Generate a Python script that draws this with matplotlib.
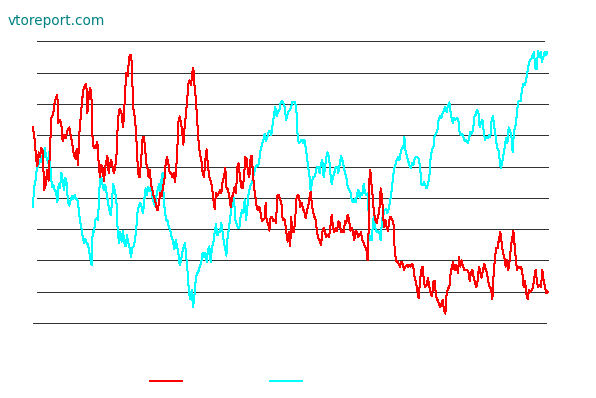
import matplotlib
matplotlib.use("Agg")
import matplotlib.pyplot as plt

# ---- data (time index, value) ----
red_t = [0, 5, 10, 13, 17, 21, 25, 30, 33, 37, 43, 47, 51, 55, 60, 65, 70, 73, 76, 80,
         85, 89, 93, 98, 103, 109, 113, 118, 123, 127, 131, 135, 140, 143, 147, 152, 156, 160, 163, 167,
         171, 175, 179, 183, 188, 193, 197, 201, 205, 209, 213, 217, 223, 227, 231, 235, 240, 243, 247, 251,
         255, 260, 265, 270, 273, 276, 280, 284, 287, 290, 294, 297, 300, 304, 308, 312, 315, 320, 325, 329,
         333, 336, 340, 344, 347, 350, 354, 358, 362, 366, 370, 374, 378, 382, 386, 390, 394, 398, 402, 406,
         410, 414, 418, 422, 426, 430, 433, 436, 440, 444, 447, 451, 454, 458, 462, 466, 470, 474, 478, 481,
         484, 488, 492,
         495, 500, 505, 509, 513, 517, 521, 525, 529, 533, 537, 541, 545, 549, 553, 557, 561, 565, 569, 573,
         577, 580, 585, 589, 593, 597, 601, 605, 609, 613, 617, 621, 625, 629, 633, 637, 641, 645, 649, 653,
         656, 659, 663, 667, 671, 675, 679, 683, 687, 691, 695, 698, 701, 705, 709, 713, 717, 721, 725, 729,
         733, 737, 741, 745, 749,
         750, 755, 760, 764, 768, 772, 774, 778, 782, 786, 790, 794, 798, 802, 806, 810, 814, 818, 822, 826,
         830, 833, 836, 840, 844, 848, 852, 856, 860, 864, 868, 872, 876, 880, 884, 888, 892, 896, 900, 904,
         908, 912, 916, 920, 924, 928, 932, 936, 940, 944, 948, 952, 956, 960, 964, 968, 972, 976, 980, 984,
         988, 992, 996, 1000, 1004, 1006,
         1010, 1013, 1016, 1019, 1023, 1027, 1031, 1035, 1039, 1043, 1047, 1050, 1053, 1057, 1061, 1065, 1069, 1073, 1077, 1081,
         1085, 1089, 1093, 1097, 1101, 1105, 1109, 1113, 1117, 1121, 1125, 1129, 1133, 1137, 1141, 1145, 1149, 1153, 1157, 1161,
         1165, 1169, 1173, 1177, 1181, 1185, 1189, 1193, 1197, 1201, 1205, 1209, 1213, 1217, 1221, 1225, 1229, 1233, 1237, 1241,
         1245, 1249, 1253, 1257,
         1260, 1265, 1270, 1275, 1278, 1282, 1286, 1290, 1294, 1298, 1302, 1306, 1310, 1314, 1318, 1322, 1326, 1330, 1334, 1338,
         1342, 1346, 1350, 1354, 1358, 1362, 1366, 1370, 1374, 1378, 1382, 1386, 1390, 1394, 1398, 1402, 1406, 1410, 1414, 1418,
         1422, 1426, 1430, 1434, 1438, 1441, 1445, 1448, 1452, 1456, 1460, 1464, 1468, 1472, 1476, 1480, 1484, 1488, 1492, 1496,
         1500, 1504, 1508, 1512, 1516, 1520, 1524, 1528, 1532, 1536, 1540, 1544]
red_v = [125, 117, 104, 100, 109, 106, 112, 109, 85, 87, 98, 91, 111, 131, 133, 141, 144, 146, 128, 130,
         127, 116, 120, 118, 123, 125, 120, 114, 107, 105, 111, 101, 125, 131, 142, 150, 152, 153, 134, 144,
         150, 147, 115, 112, 112, 116, 102, 93, 101, 98, 91, 100, 107, 96, 102, 104, 98, 96, 100, 109,
         131, 137, 135, 125, 132, 147, 160, 158, 166, 171, 171, 164, 138, 134, 125, 111, 96, 93, 106, 119,
         119, 112, 102, 98, 93, 98, 89, 85, 81, 79, 74, 72, 77, 83, 81, 87, 91, 102, 106, 102,
         96, 96, 93, 96, 90, 100, 111, 128, 132, 128, 123, 114, 123, 132, 141, 153, 155, 152, 160, 163,
         153, 144, 132,
         120, 109, 104, 96, 93, 104, 111, 100, 93, 91, 87, 79, 73, 83, 81, 83, 85, 83, 91, 93,
         99, 87, 85, 81, 74, 80, 83, 87, 83, 100, 102, 93, 87, 86, 93, 106, 105, 96, 93, 106,
         107, 98, 87, 81, 74, 72, 74, 70, 65, 66, 67, 77, 65, 64, 59, 68, 68, 65, 66, 64,
         81, 82, 79, 77, 66,
         67, 66, 58, 52, 58, 49, 68, 59, 58, 64, 79, 82, 81, 74, 77, 73, 71, 67, 72, 75,
         81, 84, 77, 71, 68, 66, 58, 54, 53, 50, 58, 61, 58, 55, 56, 55, 61, 69, 61, 58,
         61, 59, 65, 64, 58, 59, 58, 65, 64, 69, 66, 59, 61, 58, 53, 59, 58, 55, 56, 58,
         53, 51, 49, 47, 40, 51,
         98, 96, 87, 81, 70, 66, 64, 68, 72, 86, 81, 70, 61, 66, 61, 59, 66, 68, 66, 65,
         47, 40, 39, 38, 36, 39, 38, 34, 36, 37, 36, 37, 36, 38, 36, 29, 26, 21, 16, 27,
         34, 36, 26, 23, 24, 29, 23, 19, 17, 26, 27, 17, 15, 13, 10, 12, 15, 8, 6, 19,
         22, 23, 32, 36,
         39, 34, 37, 32, 42, 36, 40, 36, 34, 34, 34, 33, 27, 32, 34, 29, 26, 23, 27, 36,
         32, 29, 34, 38, 34, 32, 26, 23, 22, 15, 32, 42, 48, 48, 54, 58, 51, 45, 42, 36,
         40, 34, 40, 49, 55, 59, 49, 42, 34, 36, 35, 36, 32, 23, 27, 19, 15, 21, 20, 21,
         23, 29, 34, 26, 23, 24, 23, 34, 27, 23, 19, 20]

cyan_t = [0, 3, 7, 11, 15, 19, 23, 27, 31, 35, 39, 43, 47, 50, 53, 57, 61, 65, 69, 73,
          77, 81, 85, 89, 93, 97, 101, 105, 109, 113, 117, 121, 125, 129, 133, 137, 141, 145, 149, 153,
          157, 161, 165, 169, 173, 176, 179, 183, 187, 191, 195, 198, 201, 205, 209, 213, 217, 221, 225, 229,
          233, 237,
          240, 245, 250, 254, 258, 262, 266, 270, 274, 278, 282, 286, 290, 294, 298, 302, 306, 310, 314, 318,
          322, 326, 330, 334, 338, 342, 346, 350, 354, 358, 362, 366, 370, 374, 378, 382, 386, 389, 392, 396,
          400, 404, 408, 412, 416, 420, 424, 428, 432, 436, 440, 444, 448, 452, 456, 460, 464, 468, 472, 476,
          480, 484, 488, 492,
          495, 500, 505, 509, 513, 517, 521, 525, 529, 533, 537, 541, 545, 549, 553, 557, 561, 565, 569, 573,
          577, 580, 583, 587, 591, 595, 599, 603, 607, 611, 615, 619, 623, 627, 631, 635, 639, 643, 647, 651,
          655, 659, 663, 667, 671, 675, 679, 683, 687, 691, 695, 699, 703, 707, 711, 715, 719, 723, 727, 731,
          735, 739, 743, 747,
          750, 755, 759, 762, 766, 770, 774, 778, 782, 786, 790, 792, 795, 798, 802, 806, 810, 814, 818, 822,
          826, 830, 833, 836, 840, 844, 848, 852, 856, 860, 864, 868, 872, 876, 880, 884, 888, 892, 896, 900,
          904, 908, 912, 916, 920, 924, 928, 932, 936, 940, 944, 948, 952, 956, 960, 964, 968, 972, 976, 980,
          984, 988, 992, 996, 1000, 1004, 1007,
          1010, 1013, 1017, 1020, 1023, 1027, 1031, 1035, 1039, 1043, 1047, 1051, 1055, 1059, 1063, 1067, 1071, 1075, 1079, 1083,
          1087, 1091, 1095, 1099, 1103, 1107, 1111, 1114, 1117, 1121, 1125, 1129, 1133, 1137, 1141, 1145, 1149, 1153, 1157, 1161,
          1165, 1169, 1173, 1177, 1181, 1185, 1189, 1193, 1197, 1201, 1205, 1209, 1213, 1217, 1221, 1225, 1229, 1233, 1237, 1241,
          1245, 1249, 1253, 1257,
          1260, 1264, 1268, 1272, 1276, 1280, 1284, 1288, 1292, 1296, 1300, 1304, 1308, 1312, 1316, 1320, 1324, 1328, 1332, 1336,
          1340, 1344, 1348, 1352, 1356, 1360, 1364, 1368, 1372, 1376, 1380, 1384, 1388, 1392, 1396, 1400, 1403, 1407, 1411, 1415,
          1419, 1423, 1427, 1431, 1435, 1439, 1443, 1447, 1451, 1455, 1459, 1463, 1467, 1471, 1475, 1479, 1483, 1487, 1491, 1495,
          1499, 1503, 1507, 1511, 1515, 1519, 1523, 1527, 1531, 1535, 1539, 1543]
cyan_v = [74, 87, 90, 98, 100, 104, 103, 107, 105, 112, 107, 104, 102, 111, 96, 87, 88, 85, 84, 77,
          89, 86, 96, 91, 85, 93, 89, 77, 75, 79, 81, 79, 82, 79, 79, 73, 65, 61, 55, 51,
          54, 51, 50, 45, 40, 37, 59, 58, 66, 67, 66, 79, 93, 93, 88, 85, 88, 83, 77, 72,
          69, 77,
          89, 85, 79, 59, 51, 58, 52, 59, 51, 49, 56, 51, 48, 42, 48, 49, 53, 61, 72, 75,
          77, 74, 70, 79, 86, 82, 87, 84, 87, 81, 77, 75, 81, 85, 89, 83, 93, 96, 81, 70,
          66, 65, 61, 59, 55, 52, 47, 53, 49, 45, 37, 40, 45, 49, 51, 42, 32, 19, 15, 21,
          10, 17, 27, 32,
          32, 36, 39, 45, 42, 45, 39, 47, 49, 39, 49, 51, 58, 63, 56, 58, 58, 64, 58, 51,
          47, 43, 53, 59, 66, 73, 79, 80, 66, 63, 61, 61, 68, 72, 70, 79, 66, 74, 83, 87,
          89, 91, 96, 99, 101, 100, 104, 111, 114, 117, 121, 116, 119, 122, 123, 120, 127, 133, 138, 132,
          135, 136, 141, 142,
          141, 138, 130, 132, 135, 136, 138, 141, 141, 141, 138, 125, 117, 115, 116, 117, 115, 117, 112, 106,
          99, 93, 84, 89, 93, 93, 96, 100, 99, 96, 102, 104, 93, 99, 106, 109, 106, 96, 89, 93,
          96, 100, 100, 96, 101, 107, 104, 100, 96, 93, 87, 85, 84, 79, 77, 79, 77, 82, 85, 80,
          83, 82, 89, 83, 82, 83, 70,
          53, 55, 53, 66, 68, 61, 58, 59, 58, 53, 66, 69, 72, 73, 70, 73, 77, 83, 91, 98,
          101, 104, 106, 104, 109, 112, 112, 119, 111, 107, 104, 101, 99, 102, 101, 105, 106, 106, 105, 100,
          89, 88, 90, 88, 86, 89, 93, 106, 111, 112, 120, 121, 123, 130, 132, 131, 134, 136, 138, 135,
          139, 141, 134, 130,
          128, 131, 130, 131, 130, 121, 120, 121, 118, 116, 117, 115, 118, 122, 121, 123, 132, 133, 136, 135,
          125, 128, 130, 123, 117, 119, 118, 120, 119, 130, 132, 125, 119, 112, 111, 104, 99, 102, 107, 112,
          118, 115, 125, 123, 120, 109, 123, 125, 132, 141, 142, 142, 149, 153, 152, 155, 160, 165, 168, 169,
          171, 173, 163, 162, 174, 170, 173, 167, 170, 173, 171, 173]

grid_levels = [20, 40, 60, 80, 100, 120, 140, 160]
top_level = 180
base_level = 0

W, H = 596, 398
fig = plt.figure(figsize=(W / 100, H / 100), dpi=100)
fig.patch.set_facecolor("white")
ax = fig.add_axes([0, 0, 1, 1])
ax.set_facecolor("white")

# pixel mapping: x_px = 33 + t/3 ; y_px = 323 - v/0.639
ax.set_xlim(3 * (0 - 33), 3 * (W - 33))
ax.set_ylim((323 - H) * 0.639, 323 * 0.639)
ax.axis("off")

GLW = 0.72
grid_col = "#333333"
ax.hlines(grid_levels, 12, 1545, colors=grid_col, linewidth=GLW, antialiased=False, zorder=1)
ax.hlines([top_level], 12, 1533, colors=grid_col, linewidth=GLW, antialiased=False, zorder=1)
ax.hlines([base_level], 0, 1539, colors=grid_col, linewidth=GLW, antialiased=False, zorder=1)

LW = 0.72
ax.plot(cyan_t, cyan_v, color="#00FFFF", linewidth=LW, antialiased=False, zorder=2)
ax.plot(red_t, red_v, color="#FF0000", linewidth=LW, antialiased=False, zorder=3)

# legend swatches (the original shows no labels), drawn in axes data space
leg_v = (323 - 380.5) * 0.639
ax.plot([3 * (149 - 33), 3 * (183 - 33)], [leg_v, leg_v], color="#FF0000",
        linewidth=1.1, antialiased=False, solid_capstyle="butt", clip_on=False)
ax.plot([3 * (269 - 33), 3 * (303 - 33)], [leg_v, leg_v], color="#00FFFF",
        linewidth=1.1, antialiased=False, solid_capstyle="butt", clip_on=False)

fig.text(8 / W, 1 - 25 / H, "vtoreport.com", color="#008080", fontsize=9.8,
         family="DejaVu Sans", ha="left", va="baseline")

fig.savefig("out.png", dpi=100, facecolor="white")
